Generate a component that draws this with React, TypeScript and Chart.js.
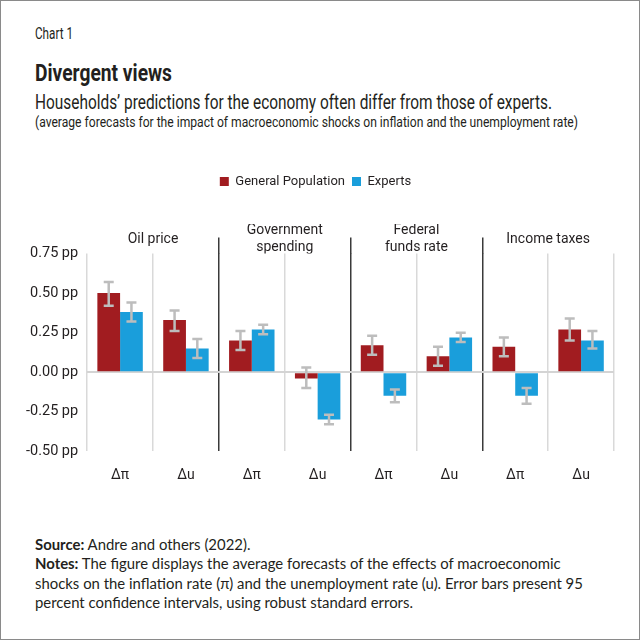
import React, { useEffect, useLayoutEffect, useRef } from 'react';
import { Chart, registerables } from 'chart.js';

Chart.register(...registerables);

const groupKeys = ['oil', 'gov', 'fed', 'tax'];
const groups: (string | string[])[] = ['Oil price', ['Government', 'spending'], ['Federal', 'funds rate'], 'Income taxes'];
const categories = ['Δπ', 'Δu', 'Δπ', 'Δu', 'Δπ', 'Δu', 'Δπ', 'Δu'];
const generalPopulation = [0.50, 0.33, 0.20, -0.04, 0.17, 0.10, 0.16, 0.27];
const generalLow = [0.42, 0.26, 0.14, -0.10, 0.11, 0.04, 0.10, 0.20];
const generalHigh = [0.57, 0.39, 0.26, 0.03, 0.23, 0.16, 0.22, 0.34];
const experts = [0.38, 0.15, 0.27, -0.30, -0.15, 0.22, -0.15, 0.20];
const expertsLow = [0.32, 0.09, 0.24, -0.33, -0.19, 0.19, -0.20, 0.15];
const expertsHigh = [0.44, 0.21, 0.30, -0.27, -0.11, 0.25, -0.10, 0.26];
const yMin = -0.5;
const yMax = 0.75;
const yStep = 0.25;

const RED = '#a11c20';
const BLUE = '#1a9edb';
const SANS = "Roboto, 'Liberation Sans', sans-serif";
const TEXT = '#231f20';

const errorBars = {
  id: 'errorBars',
  afterDatasetsDraw(chart: any) {
    const { ctx } = chart;
    const ys = chart.scales.y;
    const lows = [generalLow, expertsLow];
    const highs = [generalHigh, expertsHigh];
    ctx.save();
    ctx.strokeStyle = '#bdbdbd';
    ctx.lineWidth = 2.5;
    chart.data.datasets.forEach((_ds: any, di: number) => {
      const meta = chart.getDatasetMeta(di);
      meta.data.forEach((bar: any, i: number) => {
        const x = bar.x;
        const y1 = ys.getPixelForValue(lows[di][i]);
        const y2 = ys.getPixelForValue(highs[di][i]);
        ctx.beginPath();
        ctx.moveTo(x, y1);
        ctx.lineTo(x, y2);
        ctx.moveTo(x - 5, y1);
        ctx.lineTo(x + 5, y1);
        ctx.moveTo(x - 5, y2);
        ctx.lineTo(x + 5, y2);
        ctx.stroke();
      });
    });
    ctx.restore();
  },
};

const legendSpace = {
  id: 'legendSpace',
  beforeInit(chart: any) {
    const legend = chart.legend;
    if (!legend) return;
    const orig = legend.fit;
    legend.fit = function () {
      orig.call(this);
      this.height += 26;
    };
  },
};

function BarChart() {
  const ref = useRef<HTMLCanvasElement>(null);
  useEffect(() => {
    if (!ref.current) return;
    const chart = new Chart(ref.current, {
      type: 'bar',
      data: {
        labels: categories,
        datasets: [
          { label: 'General Population', data: generalPopulation, backgroundColor: RED, borderWidth: 0 },
          { label: 'Experts', data: experts, backgroundColor: BLUE, borderWidth: 0 },
        ],
      },
      options: {
        animation: false,
        responsive: false,
        layout: { padding: { left: 16, right: 27, top: 7, bottom: 0 } },
        datasets: { bar: { categoryPercentage: 0.69, barPercentage: 1 } },
        plugins: {
          legend: {
            position: 'top',
            labels: {
              boxWidth: 9,
              boxHeight: 9,
              padding: 7,
              color: TEXT,
              font: { family: SANS, size: 13 },
            },
          },
          tooltip: { enabled: false },
        },
        scales: {
          x: {
            type: 'category',
            offset: true,
            grid: {
              offset: true,
              drawTicks: false,
              color: (c: any) => (c.index === 2 || c.index === 4 || c.index === 6 ? '#3a3a3a' : '#d9d9d9'),
              lineWidth: 1.5,
            },
            border: { display: false },
            ticks: { padding: 16, color: TEXT, font: { family: SANS, size: 14 } },
          },
          x2: {
            type: 'category',
            axis: 'x',
            position: 'top',
            labels: groupKeys,
            offset: true,
            grid: {
              offset: true,
              drawOnChartArea: false,
              drawTicks: true,
              tickLength: 16,
              color: (c: any) => (c.index >= 1 && c.index <= 3 ? '#3a3a3a' : 'rgba(0,0,0,0)'),
              lineWidth: 1.5,
            },
            border: { display: false },
            ticks: {
              padding: -10,
              maxRotation: 0,
              autoSkip: false,
              crossAlign: 'center',
              color: TEXT,
              font: { family: SANS, size: 14 },
              callback: (_v: any, i: number) => groups[i],
            },
          },
          y: {
            min: yMin,
            max: yMax,
            grid: {
              drawTicks: false,
              color: (c: any) => (c.tick && c.tick.value === 0 ? '#d4d4d4' : 'rgba(0,0,0,0)'),
              lineWidth: 2,
            },
            border: { display: false },
            ticks: {
              stepSize: yStep,
              padding: 9,
              color: TEXT,
              font: { family: SANS, size: 14.5 },
              callback: (v: any) => Number(v).toFixed(2) + ' pp',
            },
          },
        },
      } as any,
      plugins: [legendSpace, errorBars],
    });
    return () => chart.destroy();
  }, []);
  return <canvas ref={ref} width={640} height={339} style={{ position: 'absolute', left: 0, top: 160 }} />;
}

function FitText({ top, width, size, bold, children }: { top: number; width: number; size: number; bold?: boolean; children: React.ReactNode }) {
  const ref = useRef<HTMLSpanElement>(null);
  useLayoutEffect(() => {
    const el = ref.current;
    if (!el) return;
    el.style.transform = 'none';
    const w = el.getBoundingClientRect().width;
    if (w > 0) el.style.transform = `scaleX(${width / w})`;
  }, [width]);
  return (
    <span
      ref={ref}
      style={{
        position: 'absolute',
        left: 34,
        top,
        whiteSpace: 'nowrap',
        display: 'inline-block',
        transformOrigin: 'left top',
        fontFamily: SANS,
        fontSize: size,
        lineHeight: 1.2,
        fontWeight: bold ? 700 : 400,
        color: TEXT,
      }}
    >
      {children}
    </span>
  );
}

export default function App() {
  return (
    <div
      style={{
        position: 'fixed',
        left: 0,
        top: 0,
        width: 640,
        height: 640,
        boxSizing: 'border-box',
        border: '1px solid #8a8a8a',
        background: '#fff',
        overflow: 'hidden',
        fontFamily: SANS,
      }}
    >
      <FitText top={23} width={38} size={16.5}>Chart 1</FitText>
      <FitText top={58} width={137} size={23.5} bold>Divergent views</FitText>
      <FitText top={89} width={517} size={20}>Households’ predictions for the economy often differ from those of experts.</FitText>
      <FitText top={112} width={543} size={15.5}>(average forecasts for the impact of macroeconomic shocks on inflation and the unemployment rate)</FitText>
      <BarChart />
      <div style={{ position: 'absolute', left: 34, top: 534, fontFamily: 'Lato, sans-serif', fontSize: 14.9, lineHeight: '19.4px', color: TEXT }}>
        <div><b>Source:</b> Andre and others (2022).</div>
        <div><b>Notes:</b> The figure displays the average forecasts of the effects of macroeconomic</div>
        <div>shocks on the inflation rate (π) and the unemployment rate (u). Error bars present 95</div>
        <div>percent confidence intervals, using robust standard errors.</div>
      </div>
    </div>
  );
}
